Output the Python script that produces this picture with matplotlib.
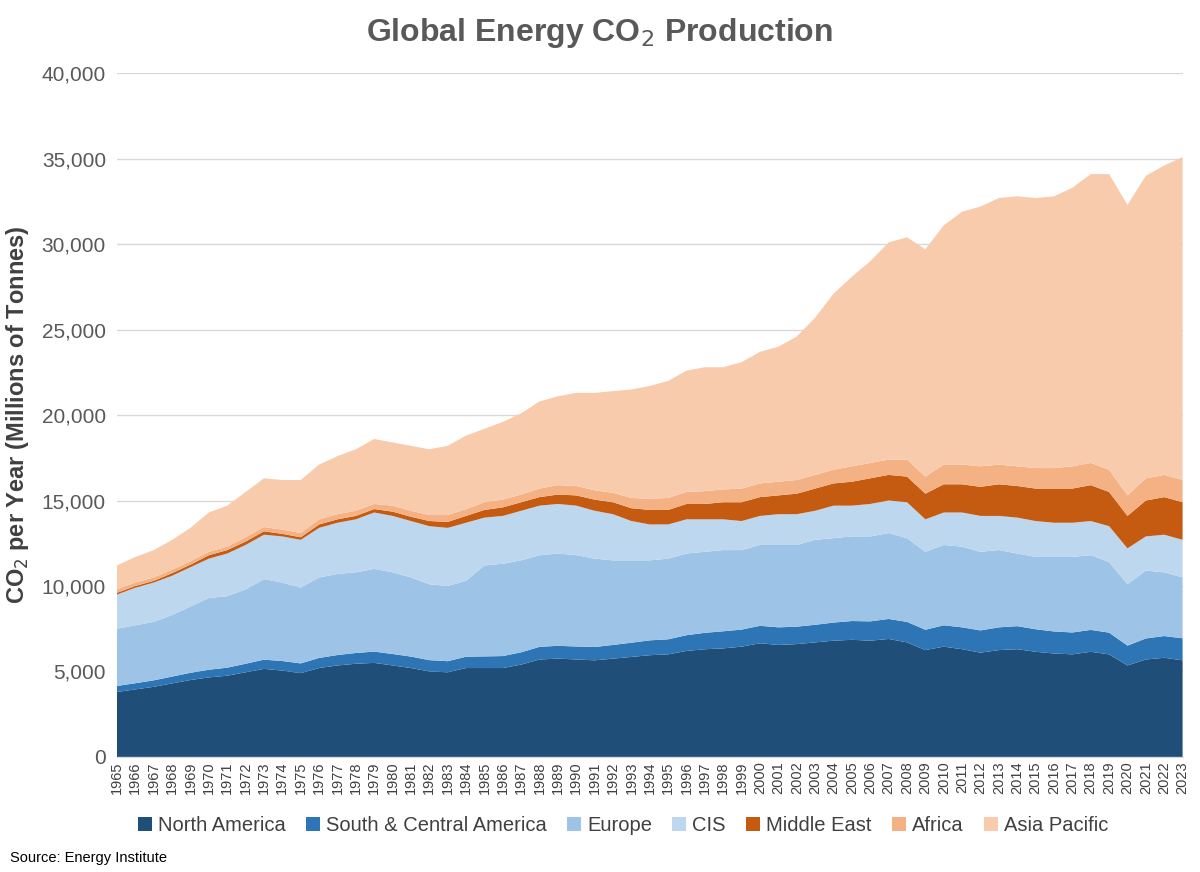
import numpy as np
import matplotlib
matplotlib.use("Agg")
import matplotlib.pyplot as plt

years = list(range(1965, 2024))
regions = ["North America", "South & Central America", "Europe", "CIS",
           "Middle East", "Africa", "Asia Pacific"]
colors = ["#1f4e79", "#2e75b6", "#9dc3e6", "#bdd7ee", "#c55a11", "#f4b183", "#f8cbad"]

# Cumulative top of each band (millions of tonnes)
na_top = [3800,3950,4100,4300,4500,4650,4750,4950,5150,5050,4900,5200,5350,5450,5500,
          5350,5200,5000,4950,5200,5200,5200,5400,5700,5750,5700,5650,5750,5850,5950,
          6000,6200,6300,6350,6450,6650,6550,6600,6700,6800,6850,6800,6900,6700,6250,
          6450,6300,6100,6250,6300,6150,6050,6000,6150,6000,5350,5700,5800,5650]
sca_val = [350,360,380,400,420,450,470,500,540,560,570,590,610,630,660,670,670,660,650,660,
           680,700,720,740,750,760,780,800,830,870,880,920,960,1000,1000,1020,1030,1020,1030,
           1060,1100,1130,1170,1200,1190,1250,1280,1300,1330,1350,1320,1290,1280,1280,1270,
           1160,1230,1270,1290]
eu_top = [7500,7700,7900,8300,8800,9300,9400,9800,10400,10200,9900,10500,10700,10800,11000,
          10800,10500,10100,10000,10300,11200,11300,11500,11800,11900,11800,11600,11500,11500,11500,
          11600,11900,12000,12100,12100,12400,12400,12400,12700,12800,12900,12900,13100,12800,12000,
          12400,12300,12000,12100,11900,11700,11700,11700,11800,11400,10100,10900,10800,10500]
cis_top = [9500,9900,10200,10600,11100,11600,11900,12400,13000,12900,12700,13400,13700,13900,14300,
           14100,13800,13500,13400,13700,14000,14100,14400,14700,14800,14700,14400,14200,13800,13600,
           13600,13900,13900,13900,13800,14100,14200,14200,14400,14700,14700,14800,15000,14900,13900,
           14300,14300,14100,14100,14000,13800,13700,13700,13800,13500,12200,12900,13000,12700]
me_top = [9600,10000,10300,10750,11250,11800,12100,12600,13200,13050,12850,13600,13900,14100,14500,
          14350,14050,13800,13750,14100,14450,14600,14900,15200,15350,15300,15050,14900,14550,14450,
          14450,14800,14800,14900,14900,15200,15300,15400,15700,16000,16100,16300,16500,16400,15400,
          15950,15950,15800,15950,15850,15700,15700,15700,15900,15500,14100,15000,15200,14900]
af_top = [9800,10200,10500,10950,11450,12000,12300,12850,13450,13300,13100,13900,14200,14400,14800,
          14700,14400,14150,14150,14500,14900,15050,15350,15700,15900,15850,15600,15450,15150,15100,
          15150,15500,15550,15650,15700,16000,16100,16200,16500,16800,17000,17200,17400,17400,16400,
          17100,17100,17000,17100,17000,16900,16900,17000,17200,16800,15300,16300,16500,16200]
total = [11200,11700,12100,12700,13400,14300,14700,15500,16300,16200,16200,17100,17600,18000,18600,
         18400,18200,18000,18200,18800,19200,19600,20100,20800,21100,21300,21300,21400,21500,21700,
         22000,22600,22800,22800,23100,23700,24000,24600,25700,27100,28100,29000,30100,30400,29700,
         31100,31900,32200,32700,32800,32700,32800,33300,34100,34100,32300,34000,34600,35100]

na = np.array(na_top, float)
sca = np.array(sca_val, float)
eu = np.array(eu_top) - na - sca
cis = np.array(cis_top) - np.array(eu_top)
me = np.array(me_top) - np.array(cis_top)
af = np.array(af_top) - np.array(me_top)
ap = np.array(total) - np.array(af_top)

fig = plt.figure(figsize=(12, 8.72), dpi=100)
ax = fig.add_axes([0.0975, 0.132, 0.888, 0.784])
x = np.arange(len(years))
ax.stackplot(x, na, sca, eu, cis, me, af, ap, colors=colors, labels=regions, linewidth=0)
ax.set_xlim(0, len(years) - 1)
ax.set_ylim(0, 40000)
ax.set_yticks(range(0, 40001, 5000))
ax.set_yticklabels([f"{v:,}" for v in range(0, 40001, 5000)], fontsize=15, color="#595959",
                   family="Liberation Sans")
ax.set_xticks(x)
ax.set_xticklabels([str(y) for y in years], rotation=90, fontsize=10.5, color="#404040",
                   family="Liberation Sans")
ax.tick_params(axis="y", length=0, pad=8)
ax.tick_params(axis="x", length=0, pad=3)
ax.grid(axis="y", color="#d9d9d9", linewidth=1)
ax.set_axisbelow(True)
for s in ["top", "right", "left"]:
    ax.spines[s].set_visible(False)
ax.spines["bottom"].set_color("#d9d9d9")
ax.set_ylabel("CO$_2$ per Year (Millions of Tonnes)", fontsize=17, fontweight="bold",
              color="#404040", family="Liberation Sans", labelpad=8)
fig.text(0.5, 0.962, "Global Energy CO$_2$ Production", ha="center", va="center",
         fontsize=23, fontweight="bold", color="#595959", family="Liberation Sans")
ax.legend(loc="center", bbox_to_anchor=(0.475, -0.1), ncol=7, frameon=False,
          handlelength=0.7, handleheight=0.7, columnspacing=1.0,
          handletextpad=0.3, prop={"family": "Liberation Sans", "size": 14.5},
          labelcolor="#404040")
fig.text(0.008, 0.012, "Source: Energy Institute", fontsize=10.5, color="#000000",
         family="Liberation Sans")
fig.savefig("out.png", dpi=100)
